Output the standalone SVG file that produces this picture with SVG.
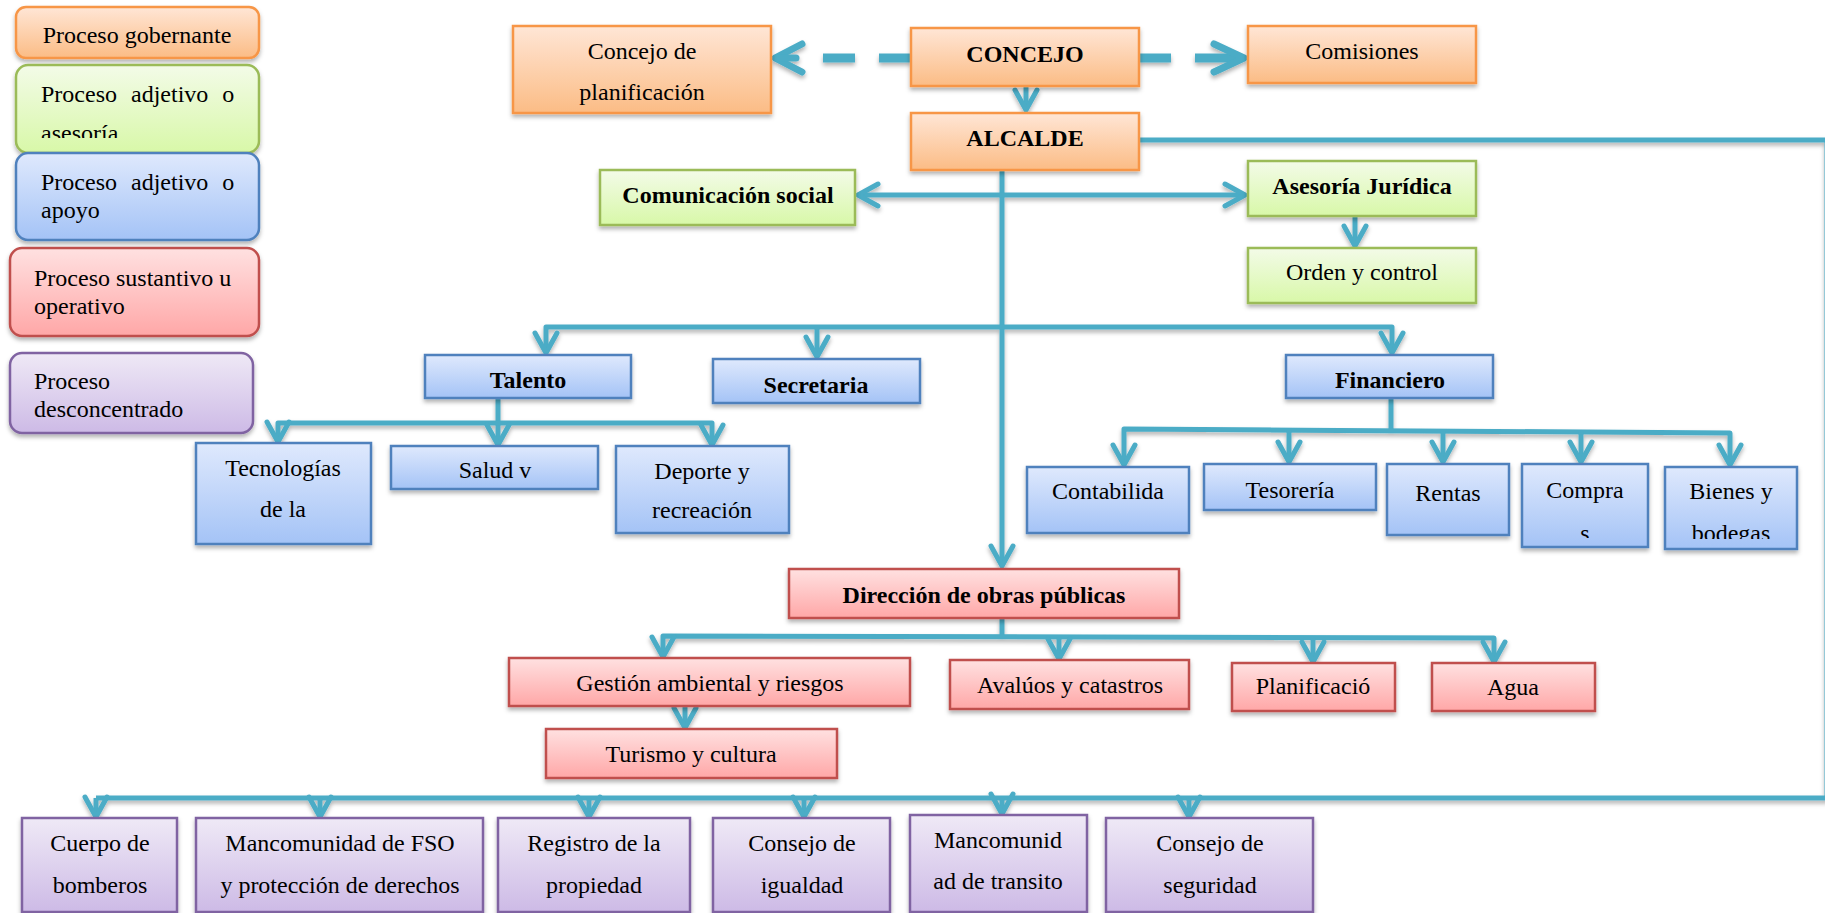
<svg xmlns="http://www.w3.org/2000/svg" width="1825" height="913" viewBox="0 0 1825 913">
<defs>
<linearGradient id="gO" x1="0" y1="0" x2="0" y2="1"><stop offset="0" stop-color="#FFE6D6"/><stop offset="1" stop-color="#FBBC85"/></linearGradient>
<linearGradient id="gG" x1="0" y1="0" x2="0" y2="1"><stop offset="0" stop-color="#F3FBE8"/><stop offset="1" stop-color="#D8F8A8"/></linearGradient>
<linearGradient id="gB" x1="0" y1="0" x2="0" y2="1"><stop offset="0" stop-color="#DFE9FD"/><stop offset="1" stop-color="#A4C3F6"/></linearGradient>
<linearGradient id="gR" x1="0" y1="0" x2="0" y2="1"><stop offset="0" stop-color="#FFE1E1"/><stop offset="1" stop-color="#FFA7A7"/></linearGradient>
<linearGradient id="gP" x1="0" y1="0" x2="0" y2="1"><stop offset="0" stop-color="#EFE9F6"/><stop offset="1" stop-color="#CDBAE6"/></linearGradient>
<filter id="sh" x="-10%" y="-20%" width="120%" height="150%"><feDropShadow dx="0" dy="3" stdDeviation="2.2" flood-color="#000" flood-opacity="0.3"/></filter>
<clipPath id="cG"><rect x="16" y="65" width="243" height="73"/></clipPath>
<clipPath id="cC"><rect x="1522" y="464" width="126" height="74"/></clipPath>
<clipPath id="cBi"><rect x="1665" y="467" width="132" height="72"/></clipPath>
</defs>
<style>
text{font-family:"Liberation Serif","Times New Roman",serif;font-size:24px;fill:#000}
.c{text-anchor:middle}
.b{font-weight:bold}
.o{fill:url(#gO);stroke:#F79646;stroke-width:2.5}
.g{fill:url(#gG);stroke:#9BBB59;stroke-width:2.5}
.bl{fill:url(#gB);stroke:#4F81BD;stroke-width:2.5}
.r{fill:url(#gR);stroke:#C0504D;stroke-width:2.5}
.p{fill:url(#gP);stroke:#8064A2;stroke-width:2.5}
.box{filter:url(#sh)}
.ln{fill:none;stroke:#4BACC6;stroke-width:5;stroke-linejoin:round}
.ah{fill:none;stroke:#4BACC6;stroke-width:5;stroke-linecap:round;stroke-linejoin:round}
.dh{fill:none;stroke:#4BACC6;stroke-width:9}
.ahb{fill:none;stroke:#4BACC6;stroke-width:7;stroke-linecap:round;stroke-linejoin:round}
</style>
<rect width="1825" height="913" fill="#fff"/>

<g id="connectors" filter="url(#sh)">
<!-- dashed CONCEJO to Concejo de planificacion -->
<line class="dh" x1="879" y1="58" x2="911" y2="58"/>
<line class="dh" x1="823" y1="58" x2="855" y2="58"/>
<polyline class="ahb" points="802,44 775,58 802,72"/>
<line class="ahb" x1="778" y1="58" x2="796" y2="58"/>
<!-- dashed CONCEJO to Comisiones -->
<line class="dh" x1="1139" y1="58" x2="1171" y2="58"/>
<line class="dh" x1="1195" y1="58" x2="1240" y2="58"/>
<polyline class="ahb" points="1214,44 1244,58 1214,72"/>
<!-- CONCEJO to ALCALDE -->
<line class="ln" x1="1026" y1="86" x2="1026" y2="110"/>
<polyline class="ah" points="1015,90 1026,110 1037,90"/>
<!-- ALCALDE right to bottom row -->
<polyline class="ln" points="1139,140 1827,140 1827,798 96,798"/>
<!-- main vertical -->
<line class="ln" x1="1002" y1="171" x2="1002" y2="566"/>
<polyline class="ah" points="991,546 1002,566 1013,546"/>
<!-- Comunicacion / Asesoria -->
<line class="ln" x1="859" y1="195" x2="1244" y2="195"/>
<polyline class="ah" points="878,184 858,195 878,206"/>
<polyline class="ah" points="1225,184 1245,195 1225,206"/>
<!-- Asesoria to Orden -->
<line class="ln" x1="1355" y1="217" x2="1355" y2="245"/>
<polyline class="ah" points="1344,226 1355,246 1366,226"/>
<!-- level 2 -->
<polyline class="ln" points="546,352 546,327 1392,327 1392,352"/>
<line class="ln" x1="817" y1="327" x2="817" y2="356"/>
<polyline class="ah" points="535,333 546,353 557,333"/>
<polyline class="ah" points="806,337 817,357 828,337"/>
<polyline class="ah" points="1381,333 1392,353 1403,333"/>
<!-- Talento children -->
<line class="ln" x1="498" y1="398" x2="498" y2="444"/>
<polyline class="ln" points="278,442 278,423 712,423 712,444"/>
<polyline class="ah" points="267,422 278,442 289,422"/>
<polyline class="ah" points="487,425 498,445 509,425"/>
<polyline class="ah" points="701,425 712,445 723,425"/>
<!-- Financiero children -->
<line class="ln" x1="1391" y1="398" x2="1391" y2="431"/>
<polyline class="ln" points="1124,465 1124,429 1730,433 1730,465"/>
<line class="ln" x1="1289" y1="430" x2="1289" y2="462"/>
<line class="ln" x1="1443" y1="431" x2="1443" y2="462"/>
<line class="ln" x1="1581" y1="432" x2="1581" y2="462"/>
<polyline class="ah" points="1113,445 1124,465 1135,445"/>
<polyline class="ah" points="1278,442 1289,462 1300,442"/>
<polyline class="ah" points="1432,442 1443,462 1454,442"/>
<polyline class="ah" points="1570,442 1581,462 1592,442"/>
<polyline class="ah" points="1719,445 1730,465 1741,445"/>
<!-- Obras children -->
<line class="ln" x1="1002" y1="618" x2="1002" y2="637"/>
<polyline class="ln" points="663,656 663,636 1494,638 1494,661"/>
<line class="ln" x1="1059" y1="637" x2="1059" y2="658"/>
<line class="ln" x1="1313" y1="638" x2="1313" y2="661"/>
<polyline class="ah" points="652,637 663,657 674,637"/>
<polyline class="ah" points="1048,639 1059,659 1070,639"/>
<polyline class="ah" points="1302,642 1313,662 1324,642"/>
<polyline class="ah" points="1483,642 1494,662 1505,642"/>
<!-- Gestion to Turismo -->
<line class="ln" x1="685" y1="706" x2="685" y2="727"/>
<polyline class="ah" points="674,708 685,728 696,708"/>
<!-- bottom row drops -->
<line class="ln" x1="96" y1="798" x2="96" y2="816"/>
<line class="ln" x1="320" y1="798" x2="320" y2="816"/>
<line class="ln" x1="589" y1="798" x2="589" y2="816"/>
<line class="ln" x1="804" y1="798" x2="804" y2="816"/>
<line class="ln" x1="1002" y1="798" x2="1002" y2="813"/>
<line class="ln" x1="1189" y1="798" x2="1189" y2="816"/>
<polyline class="ah" points="85,797 96,817 107,797"/>
<polyline class="ah" points="309,797 320,817 331,797"/>
<polyline class="ah" points="578,797 589,817 600,797"/>
<polyline class="ah" points="793,797 804,817 815,797"/>
<polyline class="ah" points="991,794 1002,814 1013,794"/>
<polyline class="ah" points="1178,797 1189,817 1200,797"/>
</g>

<g id="legend-gobernante"><rect class="o box" x="16" y="7" width="243" height="51" rx="10"/><text x="137" y="43" class="c">Proceso gobernante</text></g>
<g id="legend-asesoria"><rect class="g box" x="16" y="65" width="243" height="88" rx="12"/><g clip-path="url(#cG)"><text x="41" y="102" word-spacing="8">Proceso adjetivo o</text><text x="41" y="141">asesoría</text></g></g>
<g id="legend-apoyo"><rect class="bl box" x="16" y="153" width="243" height="87" rx="12"/><text x="41" y="190" word-spacing="8">Proceso adjetivo o</text><text x="41" y="218">apoyo</text></g>
<g id="legend-sustantivo"><rect class="r box" x="10" y="248" width="249" height="88" rx="12"/><text x="34" y="286">Proceso sustantivo u</text><text x="34" y="314">operativo</text></g>
<g id="legend-desconcentrado"><rect class="p box" x="10" y="353" width="243" height="80" rx="12"/><text x="34" y="389">Proceso</text><text x="34" y="417">desconcentrado</text></g>

<g id="concejo-planificacion"><rect class="o box" x="513" y="26" width="258" height="87"/><text x="642" y="59" class="c">Concejo de</text><text x="642" y="100" class="c">planificación</text></g>
<g id="concejo"><rect class="o box" x="911" y="28" width="228" height="58"/><text x="1025" y="62" class="c b">CONCEJO</text></g>
<g id="comisiones"><rect class="o box" x="1248" y="26" width="228" height="57"/><text x="1362" y="59" class="c">Comisiones</text></g>
<g id="alcalde"><rect class="o box" x="911" y="113" width="228" height="57"/><text x="1025" y="146" class="c b">ALCALDE</text></g>
<g id="comunicacion"><rect class="g box" x="600" y="170" width="255" height="55"/><text x="728" y="203" class="c b">Comunicación social</text></g>
<g id="asesoria"><rect class="g box" x="1248" y="161" width="228" height="55"/><text x="1362" y="194" class="c b">Asesoría Jurídica</text></g>
<g id="orden"><rect class="g box" x="1248" y="248" width="228" height="55"/><text x="1362" y="280" class="c">Orden y control</text></g>
<g id="talento"><rect class="bl box" x="425" y="355" width="206" height="43"/><text x="528" y="388" class="c b">Talento</text></g>
<g id="secretaria"><rect class="bl box" x="713" y="359" width="207" height="44"/><text x="816" y="393" class="c b">Secretaria</text></g>
<g id="financiero"><rect class="bl box" x="1286" y="355" width="207" height="43"/><text x="1390" y="388" class="c b">Financiero</text></g>
<g id="tecnologias"><rect class="bl box" x="196" y="443" width="175" height="101"/><text x="283" y="476" class="c">Tecnologías</text><text x="283" y="517" class="c">de la</text></g>
<g id="salud"><rect class="bl box" x="391" y="446" width="207" height="43"/><text x="495" y="478" class="c">Salud v</text></g>
<g id="deporte"><rect class="bl box" x="616" y="446" width="173" height="87"/><text x="702" y="479" class="c">Deporte y</text><text x="702" y="518" class="c">recreación</text></g>
<g id="contabilidad"><rect class="bl box" x="1027" y="467" width="162" height="66"/><text x="1108" y="499" class="c">Contabilida</text></g>
<g id="tesoreria"><rect class="bl box" x="1204" y="464" width="172" height="46"/><text x="1290" y="498" class="c">Tesorería</text></g>
<g id="rentas"><rect class="bl box" x="1387" y="464" width="122" height="71"/><text x="1448" y="501" class="c">Rentas</text></g>
<g id="compras"><rect class="bl box" x="1522" y="464" width="126" height="83"/><g clip-path="url(#cC)"><text x="1585" y="498" class="c">Compra</text><text x="1585" y="541" class="c">s</text></g></g>
<g id="bienes"><rect class="bl box" x="1665" y="467" width="132" height="82"/><g clip-path="url(#cBi)"><text x="1731" y="499" class="c">Bienes y</text><text x="1731" y="541" class="c">bodegas</text></g></g>
<g id="obras"><rect class="r box" x="789" y="569" width="390" height="49"/><text x="984" y="603" class="c b">Dirección de obras públicas</text></g>
<g id="gestion"><rect class="r box" x="509" y="658" width="401" height="48"/><text x="710" y="691" class="c">Gestión ambiental y riesgos</text></g>
<g id="avaluos"><rect class="r box" x="950" y="660" width="239" height="49"/><text x="1070" y="693" class="c">Avalúos y catastros</text></g>
<g id="planificacion"><rect class="r box" x="1232" y="663" width="163" height="48"/><text x="1313" y="694" class="c">Planificació</text></g>
<g id="agua"><rect class="r box" x="1432" y="663" width="163" height="48"/><text x="1513" y="695" class="c">Agua</text></g>
<g id="turismo"><rect class="r box" x="546" y="729" width="291" height="49"/><text x="691" y="762" class="c">Turismo y cultura</text></g>
<g id="bomberos"><rect class="p box" x="22" y="818" width="155" height="94"/><text x="100" y="851" class="c">Cuerpo de</text><text x="100" y="893" class="c">bomberos</text></g>
<g id="mancomunidad-fso"><rect class="p box" x="196" y="818" width="287" height="94"/><text x="340" y="851" class="c">Mancomunidad de FSO</text><text x="340" y="893" class="c">y protección de derechos</text></g>
<g id="registro"><rect class="p box" x="498" y="818" width="192" height="94"/><text x="594" y="851" class="c">Registro de la</text><text x="594" y="893" class="c">propiedad</text></g>
<g id="igualdad"><rect class="p box" x="713" y="818" width="177" height="94"/><text x="802" y="851" class="c">Consejo de</text><text x="802" y="893" class="c">igualdad</text></g>
<g id="transito"><rect class="p box" x="910" y="815" width="177" height="97"/><text x="998" y="848" class="c">Mancomunid</text><text x="998" y="889" class="c">ad de transito</text></g>
<g id="seguridad"><rect class="p box" x="1106" y="818" width="207" height="94"/><text x="1210" y="851" class="c">Consejo de</text><text x="1210" y="893" class="c">seguridad</text></g>
</svg>
